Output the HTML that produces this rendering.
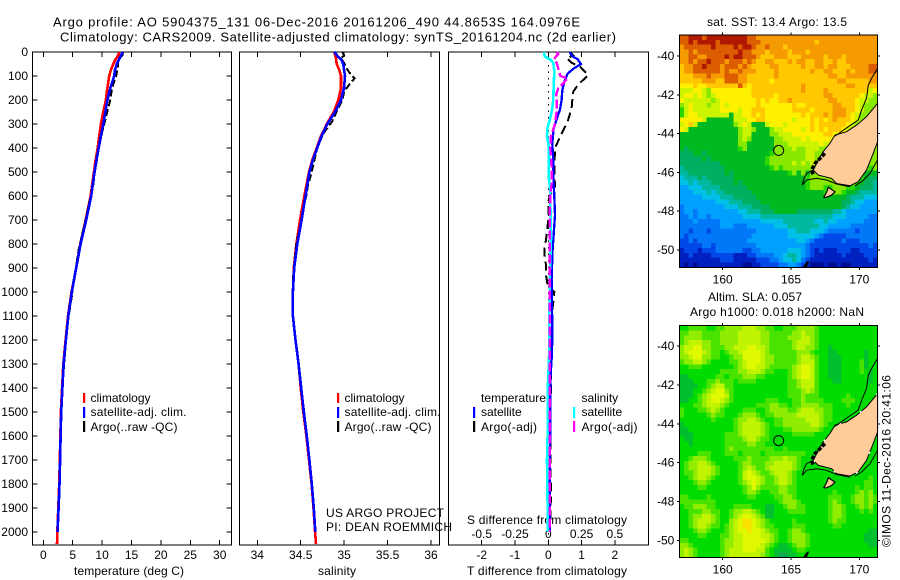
<!DOCTYPE html>
<html>
<head>
<meta charset="utf-8">
<title>Argo profile</title>
<style>
html,body{margin:0;padding:0;background:#fff;}
svg{display:block;}
text{font-family:"Liberation Sans",sans-serif;font-size:12px;fill:#000;}
text.title{font-size:13px;}
</style>
</head>
<body>
<svg id="fig" xmlns="http://www.w3.org/2000/svg" width="900" height="580" viewBox="0 0 900 580">
<rect x="0" y="0" width="900" height="580" fill="#fff"/>
<g id="maps"></g>
<text class="title" x="53" y="26.5" textLength="527">Argo profile: AO 5904375_131 06-Dec-2016 20161206_490 44.8653S 164.0976E</text>
<text class="title" x="60" y="41.5" textLength="556">Climatology: CARS2009. Satellite-adjusted climatology: synTS_20161204.nc (2d earlier)</text>

<text x="74" y="575" textLength="110">temperature (deg C)</text>
<text x="318" y="575" textLength="38">salinity</text>
<text x="467" y="575" textLength="160">T difference from climatology</text>
<text x="467" y="524" textLength="160">S difference from climatology</text>

<g>
<rect x="83" y="393" width="2.2" height="10" fill="#ff0000"/>
<rect x="83" y="407" width="2.2" height="11" fill="#0000ff"/>
<rect x="83" y="421" width="2.2" height="11" fill="#000"/>
<text x="90.5" y="402">climatology</text>
<text x="90.5" y="416" textLength="96">satellite-adj. clim.</text>
<text x="90.5" y="431" textLength="87">Argo(..raw -QC)</text>
</g>
<g>
<rect x="337" y="393" width="2.2" height="10" fill="#ff0000"/>
<rect x="337" y="407" width="2.2" height="11" fill="#0000ff"/>
<rect x="337" y="421" width="2.2" height="11" fill="#000"/>
<text x="344.5" y="402">climatology</text>
<text x="344.5" y="416" textLength="96">satellite-adj. clim.</text>
<text x="344.5" y="431" textLength="87">Argo(..raw -QC)</text>
</g>
<g>
<rect x="473" y="407" width="2.2" height="11" fill="#0000ff"/>
<rect x="473" y="421" width="2.2" height="11" fill="#000"/>
<rect x="573" y="407" width="2.2" height="11" fill="#00ffff"/>
<rect x="573" y="421" width="2.2" height="11" fill="#ff00ff"/>
<text x="481" y="402" textLength="65">temperature</text>
<text x="481" y="416">satellite</text>
<text x="481" y="431" textLength="56">Argo(-adj)</text>
<text x="581.5" y="402">salinity</text>
<text x="581.5" y="416">satellite</text>
<text x="581.5" y="431" textLength="56">Argo(-adj)</text>
</g>
<text x="326" y="517" textLength="118">US ARGO PROJECT</text>
<text x="326" y="531" textLength="126">PI: DEAN ROEMMICH</text>

<text x="707" y="26" textLength="140">sat. SST: 13.4  Argo: 13.5</text>
<text x="708" y="301" textLength="94">Altim. SLA: 0.057</text>
<text x="690" y="316" textLength="174">Argo h1000: 0.018 h2000: NaN</text>
<text transform="translate(890.5,547) rotate(-90)" textLength="172">©IMOS 11-Dec-2016 20:41:06</text>
<g id="panels"></g>
</svg>
<script>
/* ---------- profile data ---------- */
const climDepth = [0,10,20,30,50,75,100,150,200,250,300,350,400,450,500,600,700,800,900,1000,1100,1200,1300,1400,1500,1600,1700,1800,1900,2000,2050];
const tempClim = [12.9,12.8,12.6,12.3,11.9,11.5,11.2,10.9,10.65,10.2,9.8,9.5,9.25,8.9,8.6,8.05,7.2,6.3,5.6,4.8,4.2,3.8,3.4,3.2,3.0,2.9,2.8,2.7,2.55,2.38,2.33];
const tempSat = [13.5,13.3,13.1,12.9,12.5,12.2,12.05,11.4,10.9,10.55,10.2,9.8,9.4,9.05,8.7,8.15,7.3,6.35,5.6,4.85,4.25,3.85,3.45,3.25,3.05,2.95,2.85,2.75,2.6,2.42];
const salClim = [34.887,34.893,34.90,34.907,34.914,34.944,34.964,34.964,34.933,34.88,34.80,34.733,34.684,34.633,34.595,34.541,34.492,34.45,34.42,34.41,34.41,34.44,34.475,34.50,34.53,34.565,34.595,34.625,34.647,34.665,34.676];
const salSat = [34.887,34.91,34.93,34.965,34.99,35.0,35.01,34.998,34.964,34.895,34.806,34.74,34.69,34.64,34.60,34.555,34.51,34.46,34.425,34.41,34.41,34.44,34.475,34.505,34.535,34.57,34.60,34.628,34.65,34.668];
const argoDepth = [0,15,25,45,60,75,95,110,135,165,200,235,290,340,400,500,560,590,620,700,783,825,865,887,930,970,1000,1042,1117,1200,1345,1500,1700,1837,2000];
const argoTemp = [13.55,13.45,13.0,12.7,12.7,12.55,12.45,12.25,11.9,11.6,11.37,11.03,10.46,9.96,9.45,8.78,8.47,8.18,7.88,7.2,6.4,6.0,5.75,5.63,5.3,5.0,4.98,4.7,4.2,3.88,3.4,3.07,2.86,2.72,2.43];
const argoSal = [34.98,35.0,34.96,35.0,35.02,35.04,35.08,35.12,35.06,35.0,34.98,34.93,34.86,34.76,34.69,34.626,34.58,34.57,34.55,34.51,34.46,34.44,34.43,34.425,34.415,34.41,34.41,34.41,34.415,34.44,34.49,34.54,34.6,34.635,34.665];
const argoTDiff = [.65,.75,.55,.70,.95,1.05,1.2,1.1,.9,.75,.72,.70,.58,.40,.20,.18,.2,.08,0,0,-.07,-.12,-.1,-.07,-.07,-.02,.18,.15,.08,.08,.08,.07,.06,.08,.05];
const satTDepth = [0,10,20,30,50,70,90,125,160,200,240,280,320,380,450,520,600,680,720,783,825,950,1033,1117,1200,1283,1367,1500,1700,2000];
const satTDiff = [.65,.68,.75,.88,.98,.75,.58,.48,.42,.40,.35,.25,.16,.12,.15,.15,.18,.20,.18,.15,.13,.10,.10,.12,.12,.10,.06,.06,.05,.04];
const satSDepth = [0,10,20,30,45,80,150,200,240,280,320,350,400,450,500,520,560,600,700,780,950,1033,1117,1200,1283,1367,1450,1600,1700,2000];
const satSDiff = [-.03,-.03,-.025,.0125,.0375,.045,.04,.0375,.0275,.0125,-.0075,-.01,.005,.005,.0025,.0025,.0125,.015,.0175,.02,.01,.01,.0075,.0075,.005,-.0015,-.005,-.005,-.01,-.0025];
const argoSDepth = [0,10,20,30,45,80,100,110,130,150,175,200,250,300,350,400,480,550,600,700,1000,1400,1700,2000];
const argoSDiff = [.0625,.075,.055,.045,.0625,.08,.09,.145,.1125,.075,.06,.0625,.0625,.05,.02,.015,.025,.025,.015,.01,.01,.01,.01,.01];
const zeroDepth = [0,2050];
const zeroDiff = [0,0];

/* ---------- tick labels ---------- */
const depthTicks = [0,100,200,300,400,500,600,700,800,900,1000,1100,1200,1300,1400,1500,1600,1700,1800,1900,2000];
const tempTicks = [0,5,10,15,20,25,30];
const salTicks = [34,34.5,35,35.5,36];
const tDiffTicks = [-2,-1,0,1,2];
const sDiffTicks = [-0.5,-0.25,0,0.25,0.5];
const lonTicks = [160,165,170];
const latTicks = [-40,-42,-44,-46,-48,-50];

/* ---------- map fields: one character per grid cell ---------- */
const sstLevels = {'0':'#000c90','1':'#0020c0','2':'#0048e8','3':'#0078f8','4':'#00a0ff','5':'#00c0e8','6':'#00b8a0','7':'#00b060','8':'#00b820','9':'#28d800','a':'#88e800','b':'#ccf400','c':'#fff000','d':'#ffc800','e':'#f59a00','f':'#dc5c00','g':'#b01800'};
const slaLevels = {'0':'#10a850','1':'#00c030','2':'#00dc00','3':'#48e400','4':'#90ec00','5':'#c0f400','6':'#e0f800','7':'#f8e000'};
const sstRows = [
"ffgggfggggg ggggffeeeee eeeeeeeeeee eeeeeeeeeee",
"ffgfggggfgg ggggfffeeee eeeeeeeedee eeeeeeeeeee",
"effffffgfff fgfggfeefee edeeeeeeeee eeeeeeeeeee",
"eefefffffff ffgffeeedee eedeeedeeee eeeeeeeeeee",
"eeffeeffffg fggfffeddde eedddeeeeed eeedeeeeeee",
"eefeffgfffe fffefeddeed ddedeeddeed deddeeeeeee",
"deeffgfffef ffefeddddee dddddeddeed eedddeeeeff",
"deeffffffef eefeeedddde dddddddedde edddedeeeff",
"dddeeefeeef ffeedddddde ddddddddddd eeddeeeeeee",
"dddddeeeddf ffeedddddcd ddddddddddd ddeedddddee",
"cccdccddddd ddfdcdddddd dddddeddddd ddddeeddddd",
"bbbccbacccc cccccdddddd dddddedddde dddddddddbc",
"bccbcbabccc cccccdddddc dddddddddde eddddddcbba",
"cbbbbbbabcc ccccccdcdcc ddedddddddd eeddddcbbaa",
"abcbbbabbcb ccccccdcccc cccdccddddd deedddcbaaa",
"9bcbbbbbbcc ccbccdddccc cccddddcddd deeeddcbaaa",
"9bccbbbbbbb 8bbccdcdccc cccccdcddde deeedcbaaaa",
"cccccb88888 8bbbccddccc cccbcccdcdc dedddcbaaaa",
"bcdb8888888 8abcb888bcc cbcccccdcdd ddddcbaaaaa",
"cb888888888 88abba888ab bccccbcdcdc dddcbaaaaaa",
"88888888888 88abb8888aa bbbcccccccd dccbaaaaaaa",
"88888888888 88aba88888a abbbbcbcccc cbbaaaaaaaa",
"88888888888 88aa888888a aabbbbbbbcb baaaaaaaaaa",
"87888888888 889a888888a aaabaabbbaa aaaaaaaaaaa",
"77788788888 8888888889a aaaaaabbaa9 aaaaaaaaaaa",
"77777878888 888888889aa aaaaaabbaa9 aaaaaaaaaaa",
"77777777788 888888889aa aaabababa99 aaaaaaaaaaa",
"67777777778 8888888889a 9aaaaaaa9aa aaaaaaa9a9a",
"66777777778 78888888888 889a8a8aaaa aaaaaaa9888",
"56667677777 78888888888 8888889aaaa aaaaaaa9877",
"55656667777 78788888888 8888889aaaa aaaaaa98776",
"44555666677 77778888888 8888889aaa9 9aaa9987776",
"44455565667 77777888888 88888888889 aaa98876666",
"44444555566 67777788888 88888888888 88887666555",
"44444444555 66677778888 88888888888 88877655444",
"34444444445 55666777788 88888888888 88876554444",
"34434444444 44556667778 88887777777 76654444444",
"33434434444 44455556666 66666666666 65554444433",
"33343333344 44444445555 56666666556 55444444333",
"33333333344 43334444445 55666666655 44444333333",
"33233323333 33333344444 44556665554 33333323333",
"32333333333 33333444444 44555555432 22223333333",
"22323333333 33334444444 44445543222 22232223333",
"22222332333 33333344444 44444432222 22222222232",
"12221222333 33322334444 44555432121 11222112222",
"11211112222 21112233334 45665432111 11121111222",
"11111111122 21111122233 45565321111 11111111121",
"10101111111 11100112222 33443210001 00100111111"];
const slaRows = [
"22333322334 44455544332 23334444322 22222222222",
"33444333344 44555554433 33344544322 22222222222",
"34444333344 44555554433 33444554322 22222222222",
"34555443344 44555554433 33345554322 22222222222",
"45566443334 45556655433 33345544322 12222222222",
"45666543323 44566665433 33334443222 11222222122",
"44566443322 34466665443 33334554322 11122222122",
"34455432222 33456665443 33334555322 11122223122",
"22333222222 23456655433 33345665322 11122223122",
"22222222233 33445554332 22345665322 11122223212",
"11222222332 33344433222 22345665322 11122222212",
"11122233433 32333322222 22334555322 21122222212",
"11112234553 32222222222 22334555322 22222222222",
"11122345664 32222222222 22333454322 22222222222",
"11123456665 32222222222 22333433322 22223222222",
"11223456654 32222222333 22233433332 22233322222",
"22233455543 22222233344 33233444433 32223222222",
"32223345432 22233322344 44334555443 32222222222",
"32222234332 22344432334 44445555543 32222222222",
"22222223222 23445543223 34444455543 32222222222",
"12222222222 23455554323 34444445543 22222222222",
"11222222222 23455554322 23344444432 22222222222",
"11122222223 33455554322 22233333222 22222222222",
"21122222223 33345543322 22222222222 22222222222",
"22122222223 33334433222 22222222222 22222222222",
"22222222223 43333333332 23222222222 22222222222",
"22223332223 33233332333 33333322222 22222222222",
"22344432222 23334333344 45443222222 22222222222",
"23445543222 22344333445 55543222222 22222222222",
"23445554322 22345433455 55543222222 22222222222",
"23345554322 22356543345 55432222222 22222222222",
"22345543222 22356654334 55432222222 22222222232",
"22234432222 22345654334 55432222222 22222222332",
"22223322222 22234643333 44332222222 22222232332",
"22222222222 22234432233 44332222222 23222234342",
"33222232222 22223322223 34432222222 33322344343",
"33333333222 22222222222 34443222222 34322344343",
"23344433222 23333222112 23443322222 34432234342",
"22333443322 34455432112 22333322222 34432223232",
"22344554322 34566543112 22222222222 34432222222",
"22345554322 45677654322 22232222222 34332222222",
"22345543323 45677654332 22233322222 23322222222",
"22234432223 45667665433 22344322222 22222222211",
"22223322233 45566665543 22344432222 22222222111",
"33222222234 45566666543 22344432222 22222222111",
"44322222234 45566665432 11234432222 22222222211",
"45432222234 55566655321 11123322222 22222222222",
"45432222234 55555554321 00112222222 22222222222"];

/* ---------- coastline (lon / lat) ---------- */
const landLon = [171.34,170.53,169.80,169.07,168.22,167.85,167.36,167.0,166.63,167.0,167.97,168.34,169.31,169.92,170.53,171.02,171.34];
const landLat = [-42.44,-43.13,-43.56,-43.90,-44.07,-44.50,-44.93,-45.36,-45.88,-46.14,-46.31,-46.57,-46.69,-46.48,-45.88,-45.02,-44.42];
const stewartLon = [167.4,167.62,167.73,168.22,167.97,167.55];
const stewartLat = [-47.28,-47.0,-46.77,-47.0,-47.17,-47.3];
const snaresLon = [165.85,166.14,166.34,166.14];
const snaresLat = [-50.9,-50.6,-50.55,-50.9];
const shelfNorthLon = [171.34,170.90,170.66,170.53,170.17,169.92,169.19,168.58,168.22];
const shelfNorthLat = [-40.64,-41.15,-41.50,-42.18,-42.79,-43.30,-43.65,-43.95,-44.13];
const shelfEastLon = [171.34,170.78,170.17,169.68];
const shelfEastLat = [-45.36,-46.05,-46.48,-46.69];
const shelfSouthLon = [166.63,166.14,165.95,165.82,166.14,166.87,167.6,168.34,169.31];
const shelfSouthLat = [-45.88,-46.05,-46.31,-46.65,-46.39,-46.31,-46.39,-46.6,-46.74];
const fiordLon = [167.48,166.75,166.51,166.63];
const fiordLat = [-45.02,-45.54,-45.88,-46.14];
const floatLon = 164.0976;
const floatLat = -44.8653;

/* ---------- drawing ---------- */
const NS = 'http://www.w3.org/2000/svg';
function make(tag, attrs, parent) {
  const n = document.createElementNS(NS, tag);
  for (const k in attrs) n.setAttribute(k, attrs[k]);
  parent.appendChild(n);
  return n;
}
const panelsG = document.getElementById('panels');
const mapsG = document.getElementById('maps');

const depthY = d => 52 + 0.24 * d;
const tempX = v => 43.3 + 5.88 * v;
const salX = v => 257.3 + 86.85 * (v - 34);
const tDiffX = v => 548.3 + 33.3 * v;
const sDiffX = v => 548.3 + 133.2 * v;
const lonX = v => 722.7 + (v - 160) * 13.66;
const sstLatY = v => 56 + (-40 - v) * 19.4;
const slaLatY = v => 346 + (-40 - v) * 19.45;

const PTOP = 52, PBOT = 545;

function drawPanel(name, x0, x1, scale, ticks) {
  const g = make('g', {}, panelsG);
  
  
  const frame = make('rect', {x:x0, y:PTOP, width:x1-x0, height:PBOT-PTOP, fill:'none', stroke:'#000', 'stroke-width':1, 'shape-rendering':'crispEdges'}, g);
  
  
  ticks.forEach(t => {
    const x = scale(t);
    const tb = make('line', {x1:x, x2:x, y1:PBOT, y2:PBOT-5, stroke:'#000', 'shape-rendering':'crispEdges'}, g);
    
    
    const tt = make('line', {x1:x, x2:x, y1:PTOP, y2:PTOP+5, stroke:'#000', 'shape-rendering':'crispEdges'}, g);
    
    
    const lab = make('text', {x:x, y:559, 'text-anchor':'middle'}, g);
    lab.textContent = String(t);
    
    
  });
  return g;
}
function drawLine(parent, name, depths, values, scale, color, width, dash) {
  const pts = values.map((v, i) => scale(v).toFixed(1) + ',' + depthY(depths[i]).toFixed(1)).join(' ');
  const attrs = {points:pts, fill:'none', stroke:color, 'stroke-width':width, 'shape-rendering':'crispEdges'};
  if (dash) attrs['stroke-dasharray'] = dash;
  const l = make('polyline', attrs, parent);
  
  
}

const p1 = drawPanel('temperature', 32.5, 231.5, tempX, tempTicks);
depthTicks.forEach(d => {
  const y = depthY(d);
  const a = make('line', {x1:32.5, x2:37.5, y1:y, y2:y, stroke:'#000', 'shape-rendering':'crispEdges'}, p1);
  
  
  const b = make('line', {x1:226.5, x2:231.5, y1:y, y2:y, stroke:'#000', 'shape-rendering':'crispEdges'}, p1);
  
  
  const lab = make('text', {x:28, y:y+4, 'text-anchor':'end'}, p1);
  lab.textContent = String(d);
  
  
});
drawLine(p1, 'temperature-climatology-line', climDepth, tempClim, tempX, '#ff0000', 2.6);
drawLine(p1, 'temperature-argo-line', argoDepth, argoTemp, tempX, '#000', 2, '7 3');
drawLine(p1, 'temperature-satellite-line', climDepth, tempSat, tempX, '#0000ff', 2.6);

const p2 = drawPanel('salinity', 239.5, 439.5, salX, salTicks);
drawLine(p2, 'salinity-climatology-line', climDepth, salClim, salX, '#ff0000', 2.6);
drawLine(p2, 'salinity-argo-line', argoDepth, argoSal, salX, '#000', 2, '7 3');
drawLine(p2, 'salinity-satellite-line', climDepth, salSat, salX, '#0000ff', 2.6);

const p3 = drawPanel('difference', 448.5, 648.5, tDiffX, tDiffTicks);
sDiffTicks.forEach(t => {
  const lab = make('text', {x:sDiffX(t), y:538, 'text-anchor':'middle'}, p3);
  lab.textContent = String(t);
  
  
});
drawLine(p3, 'zero-difference-line', zeroDepth, zeroDiff, tDiffX, '#000', 1, '1.5 5');
drawLine(p3, 't-difference-argo-line', argoDepth, argoTDiff, tDiffX, '#000', 2, '9 5');
drawLine(p3, 't-difference-satellite-line', satTDepth, satTDiff, tDiffX, '#0000ff', 2.3);
drawLine(p3, 's-difference-satellite-line', satSDepth, satSDiff, sDiffX, '#00ffff', 2.6);
drawLine(p3, 's-difference-argo-line', argoSDepth, argoSDiff, sDiffX, '#ff00ff', 2.4, '9 3');

function drawMap(name, rows, levels, latY, top, bottom, showSpecks) {
  const g = make('g', {}, mapsG);
  
  
  const left = 679.3, right = 877.7;
  const clean = rows.map(r => r.replace(/ /g, ''));
  const cw = (right - left) / clean[0].length;
  const ch = (bottom - top) / clean.length;
  clean.forEach((row, i) => {
    for (let j = 0; j < row.length; j++) {
      const c = make('rect', {x:(left + j*cw).toFixed(2), y:(top + i*ch).toFixed(2), width:(cw+0.4).toFixed(2), height:(ch+0.4).toFixed(2), fill:levels[row[j]], 'shape-rendering':'crispEdges'}, g);
      
      
    }
  });
  const pts = (lons, lats) => lons.map((v, i) => lonX(v).toFixed(1) + ',' + latY(lats[i]).toFixed(1)).join(' ');
  const land = make('polygon', {points:pts(landLon, landLat), fill:'#ffcc99', stroke:'#000', 'stroke-width':1}, g);
  
  
  if (showSpecks) {
    const sp = make('polygon', {points:pts(landLon, landLat), fill:'none', stroke:'#fff', 'stroke-width':1.5, 'stroke-dasharray':'2 22'}, g);
    
    
  }
  const st = make('polygon', {points:pts(stewartLon, stewartLat), fill:'#ffcc99', stroke:'#000', 'stroke-width':1.2}, g);
  
  
  const sn = make('polygon', {points:pts(snaresLon, snaresLat), fill:'#000'}, g);
  
  
  [[shelfNorthLon, shelfNorthLat, 'shelf-contour-north', 1, ''], [shelfEastLon, shelfEastLat, 'shelf-contour-east', 1, ''], [shelfSouthLon, shelfSouthLat, 'shelf-contour-south', 1, ''], [fiordLon, fiordLat, 'fiordland-coast', 3.5, '4 1.5']].forEach(s => {
    const l = make('polyline', {points:pts(s[0], s[1]), fill:'none', stroke:'#000', 'stroke-width':s[3], 'stroke-dasharray':s[4] || 'none'}, g);
    
    
  });
  const mark = make('circle', {cx:lonX(floatLon), cy:latY(floatLat), r:5, fill:'none', stroke:'#000', 'stroke-width':1}, g);
  
  
  const frame = make('rect', {x:left, y:top, width:right-left, height:bottom-top, fill:'none', stroke:'#000', 'shape-rendering':'crispEdges'}, g);
  
  
  lonTicks.forEach(t => {
    const x = lonX(t);
    const a = make('line', {x1:x, x2:x, y1:top-2.5, y2:top, stroke:'#000', 'shape-rendering':'crispEdges'}, g);
    
    
    const b = make('line', {x1:x, x2:x, y1:bottom, y2:bottom+2.5, stroke:'#000', 'shape-rendering':'crispEdges'}, g);
    
    
    const lab = make('text', {x:x, y:bottom+16, 'text-anchor':'middle'}, g);
    lab.textContent = String(t);
    
    
  });
  latTicks.forEach(t => {
    const y = latY(t);
    const a = make('line', {x1:left-2.5, x2:left, y1:y, y2:y, stroke:'#000', 'shape-rendering':'crispEdges'}, g);
    
    
    const b = make('line', {x1:right, x2:right+2.5, y1:y, y2:y, stroke:'#000', 'shape-rendering':'crispEdges'}, g);
    
    
    const lab = make('text', {x:left-5, y:y+4, 'text-anchor':'end'}, g);
    lab.textContent = String(t);
    
    
  });
}
drawMap('sst', sstRows, sstLevels, sstLatY, 35, 267.3, false);
drawMap('sla', slaRows, slaLevels, slaLatY, 325.7, 557.3, true);
</script>
</body>
</html>
